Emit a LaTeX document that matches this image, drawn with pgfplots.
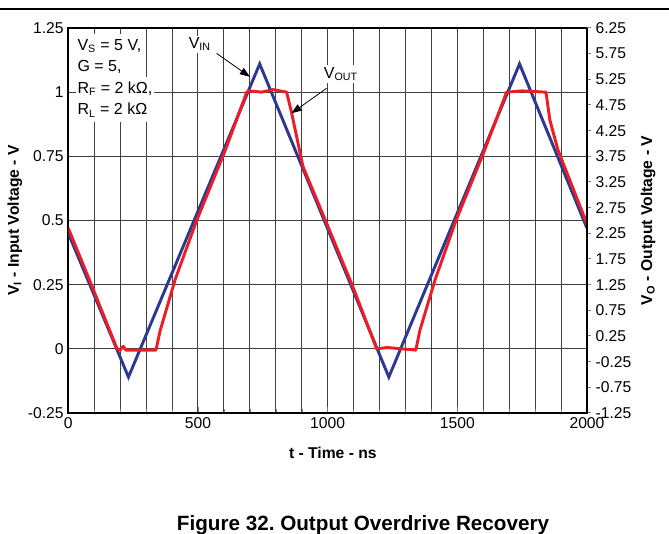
\documentclass[border=0pt]{standalone}
\usepackage{fontspec}
\setmainfont{Liberation Sans}
\usepackage{pgfplots}
\pgfplotsset{compat=1.18}
\usetikzlibrary{arrows.meta}
\definecolor{vin}{HTML}{2B3990}
\definecolor{vout}{HTML}{EE1C25}
\definecolor{gridc}{HTML}{404040}
\frenchspacing

\begin{document}
\begin{tikzpicture}
\useasboundingbox (0,0) rectangle (501.75pt,400.5pt);
\draw[line width=0.8pt] (0,393.75pt) -- (501.75pt,393.75pt);
\node[anchor=base,font=\fontsize{15.5}{18}\selectfont\bfseries] at (272.25pt,2.5pt) {Figure 32. Output Overdrive Recovery};

\begin{axis}[
  at={(51.225pt,90.75pt)}, anchor=south west,
  scale only axis, width=389pt, height=288.75pt,
  xmin=0, xmax=2000, ymin=-0.25, ymax=1.25,
  xtick={0,500,1000,1500,2000},
  minor xtick={100,200,300,400,600,700,800,900,1100,1200,1300,1400,1600,1700,1800,1900},
  ytick={-0.25,0,0.25,0.5,0.75,1,1.25},
  grid=both,
  major grid style={gridc,line width=0.75pt},
  minor grid style={gridc,line width=0.75pt},
  axis line style={line width=1.5pt},
  ytick style={draw=none},
  xtick pos=bottom, tick align=inside,
  /pgf/number format/assume math mode=true,
  /pgf/number format/1000 sep={},
  tick label style={font=\fontsize{11.75}{13}\selectfont},
  xlabel={\textbf{t - Time - ns}},
  ylabel={\textbf{V\textsubscript{I} - Input Voltage - V}},
  label style={font=\fontsize{11.75}{13}\selectfont},
  xlabel style={at={(axis description cs:0.51,-0.104)},anchor=center},
  ylabel style={at={(axis description cs:-0.103,0.5)},anchor=center},
]
\addplot[vin,line width=2.2pt] coordinates {
  (0,0.45)(232,-0.11)(738,1.11)(1236,-0.11)(1740,1.11)(2000,0.47)
};
\addplot[vout,line width=2.2pt,line join=round] coordinates {
  (0,0.47)(85,0.26)(188,0.0)(200,-0.005)(212,0.01)(222,-0.005)(338,-0.005)
  (354,0.07)(412,0.27)(495,0.5)(604,0.77)(688,1.0)(700,1.005)(745,1.0)
  (790,1.01)(842,1.0)(861,0.92)(905,0.71)(1000,0.48)(1100,0.235)(1189,0.0)
  (1230,0.005)(1340,-0.005)(1356,0.073)(1414,0.268)(1495,0.5)(1600,0.76)
  (1690,1.0)(1750,1.005)(1842,1.0)(1857,0.891)(1888,0.775)(2000,0.487)
};
\tikzset{ann/.style={anchor=base west,font=\fontsize{12}{14}\selectfont,fill=white,inner xsep=1.5pt,inner ysep=3.5pt}}
\node[ann] at (axis cs:27,1.164) {V\textsubscript{S} = 5 V,};
\node[ann] at (axis cs:27,1.080) {G = 5,};
\node[ann] at (axis cs:27,0.996) {R\textsubscript{F} = 2 kΩ,};
\node[ann] at (axis cs:27,0.912) {R\textsubscript{L} = 2 kΩ};
\node[ann,inner ysep=1.5pt] at (axis cs:456,1.17) {V\textsubscript{IN}};
\node[ann,inner ysep=1.5pt] at (axis cs:977,1.054) {V\textsubscript{OUT}};
\draw[line width=0.6pt,-{Triangle[length=7.5pt,width=5.5pt]}] (axis cs:572,1.151) -- (axis cs:700,1.06);
\draw[line width=0.6pt,-{Triangle[length=7.5pt,width=5.5pt]}] (axis cs:996,1.015) -- (axis cs:861,0.918);
\end{axis}

\begin{axis}[
  at={(51.225pt,90.75pt)}, anchor=south west,
  scale only axis, width=389pt, height=288.75pt,
  xmin=0, xmax=2000, ymin=-1.25, ymax=6.25,
  axis x line=none, axis y line*=right,
  ytick={-1.25,-0.75,-0.25,0.25,0.75,1.25,1.75,2.25,2.75,3.25,3.75,4.25,4.75,5.25,5.75,6.25},
  yticklabel style={/pgf/number format/.cd,fixed,fixed zerofill,precision=2},
  axis line style={line width=1.5pt},
  ytick style={line width=0.75pt},
  tick align=outside, major tick length=3pt,
  /pgf/number format/assume math mode=true,
  tick label style={font=\fontsize{11.75}{13}\selectfont},
  ylabel={\textbf{V\textsubscript{O} - Output Voltage - V}},
  label style={font=\fontsize{11.75}{13}\selectfont},
  ylabel style={at={(axis description cs:1.118,0.5)},anchor=center,rotate=0},
]
\end{axis}
\end{tikzpicture}
\end{document}
